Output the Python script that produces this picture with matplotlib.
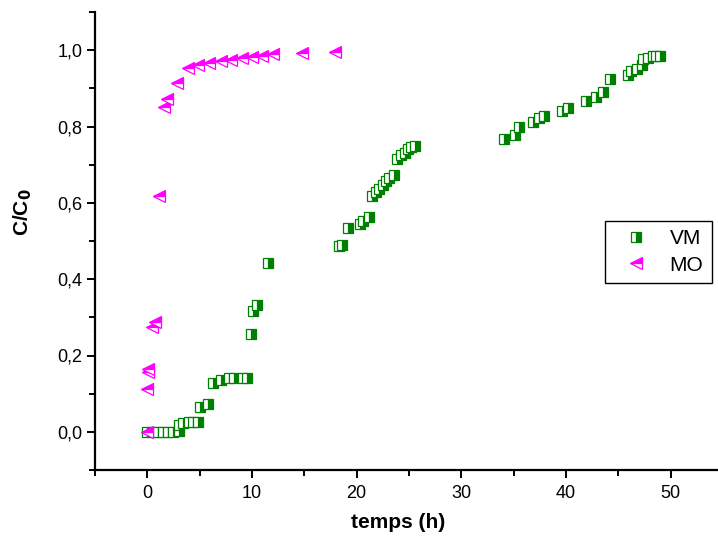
import matplotlib
matplotlib.use("Agg")
import matplotlib.pyplot as plt
from matplotlib.ticker import MultipleLocator, FixedLocator, FuncFormatter

plt.rcParams['font.family'] = ['Liberation Sans', 'DejaVu Sans']

# VM series
vm_t = [0, 0.5, 1.0, 1.5, 2.0, 2.5, 3.0,
        3.0, 3.4, 4.0, 4.4, 4.8,
        5.0, 5.8,
        6.3, 7.0, 7.8, 8.3, 9.1, 9.5,
        9.9, 10.1, 10.5, 11.5,
        18.3, 18.6, 19.2,
        20.3, 20.6, 21.2,
        21.5, 21.8, 22.1, 22.5, 22.8, 23.1, 23.6,
        23.9, 24.2, 24.6, 24.9, 25.2, 25.6,
        34.1, 35.1, 35.5,
        36.8, 37.4, 37.9,
        39.6, 40.2,
        41.9, 42.9, 43.5, 44.2,
        45.9, 46.2, 46.8, 47.3, 47.4, 47.8, 48.3, 48.6, 49.0]
vm_c = [0, 0, 0, 0, 0, 0, 0.003,
        0.018, 0.022, 0.025, 0.027, 0.025,
        0.066, 0.072,
        0.128, 0.135, 0.140, 0.140, 0.140, 0.140,
        0.256, 0.317, 0.333, 0.443,
        0.486, 0.490, 0.535,
        0.545, 0.553, 0.564,
        0.618, 0.628, 0.637, 0.647, 0.657, 0.666, 0.673,
        0.715, 0.726, 0.731, 0.741, 0.747, 0.750,
        0.767, 0.778, 0.800,
        0.812, 0.823, 0.828,
        0.840, 0.849,
        0.867, 0.878, 0.891, 0.925,
        0.936, 0.946, 0.951, 0.960, 0.977, 0.980, 0.986, 0.986, 0.986]

# MO series
mo_t = [0, 0, 0.05, 0.1, 0.4, 0.7, 1.1, 1.6, 1.9, 2.85, 3.9,
        4.8, 5.9, 7.0, 8.0, 9.0, 10.0, 11.0, 12.0, 14.8, 17.9]
mo_c = [0, 0.113, 0.157, 0.165, 0.275, 0.288, 0.617, 0.850, 0.873, 0.914, 0.954,
        0.962, 0.967, 0.972, 0.975, 0.980, 0.983, 0.986, 0.989, 0.992, 0.995]

x_major = [0, 10, 20, 30, 40, 50]
y_major = [0.0, 0.2, 0.4, 0.6, 0.8, 1.0]

fig = plt.figure(figsize=(7.18, 5.41), dpi=100)
ax = fig.add_axes([95/718, 1 - 470/541, (723 - 95)/718, (470 - 12)/541])

ax.plot(vm_t, vm_c, linestyle='none', marker='s', markersize=7.5,
        markeredgewidth=0.9, color='#008000', markerfacecolor='#008000',
        markerfacecoloralt='white', fillstyle='right', label='VM')
ax.plot(mo_t, mo_c, linestyle='none', marker='<', markersize=9,
        markeredgewidth=0.9, color='#FF00FF', markerfacecolor='#FF00FF',
        markerfacecoloralt='white', fillstyle='top', label='MO')

ax.set_xlim(-5, 55)
ax.set_ylim(-0.1, 1.1)

for s in ['top', 'right']:
    ax.spines[s].set_visible(False)
for s in ['left', 'bottom']:
    ax.spines[s].set_linewidth(1.6)

ax.xaxis.set_major_locator(FixedLocator(x_major))
ax.xaxis.set_minor_locator(MultipleLocator(5))
ax.yaxis.set_major_locator(FixedLocator(y_major))
ax.yaxis.set_minor_locator(MultipleLocator(0.1))
ax.yaxis.set_major_formatter(FuncFormatter(lambda v, p: f"{v:.1f}".replace('.', ',')))

ax.tick_params(which='major', direction='out', length=6, width=1.4, labelsize=13)
ax.tick_params(which='minor', direction='out', length=4, width=1.4)
ax.tick_params(axis='x', pad=5)
ax.tick_params(axis='y', pad=3)

ax.set_xlabel('temps (h)', fontsize=15, fontweight='bold')
ax.xaxis.set_label_coords(398/718, 1 - 522/541, transform=fig.transFigure)
ax.xaxis.label.set_va('center')
ax.set_ylabel('C/C$_\\mathbf{0}$', fontsize=15, fontweight='bold')
ax.yaxis.set_label_coords(23/718, 1 - 212/541, transform=fig.transFigure)
ax.yaxis.label.set_va('center')

leg = ax.legend(loc='upper left', bbox_to_anchor=(605/718, 1 - 221/541),
                bbox_transform=fig.transFigure, fontsize=15, frameon=True,
                fancybox=False, edgecolor='black', framealpha=1,
                handletextpad=0.5, borderpad=0.4, labelspacing=0.35,
                handlelength=2.2, borderaxespad=0)
leg.get_frame().set_linewidth(1.0)

fig.savefig('out.png', dpi=100)
